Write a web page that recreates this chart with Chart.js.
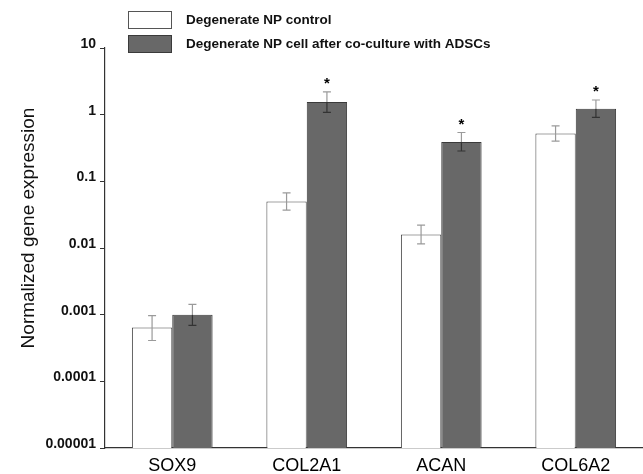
<!DOCTYPE html>
<html>
<head>
<meta charset="utf-8">
<script src="https://cdn.jsdelivr.net/npm/chart.js@4.4.1/dist/chart.umd.min.js"></script>
<style>
  html, body { margin: 0; padding: 0; background: #fff; }
  #wrap { width: 643px; height: 474px; }
</style>
</head>
<body>
<div id="wrap"><canvas id="myChart" width="643" height="474"></canvas></div>
<script>
"use strict";

// data
const genes = ["SOX9", "COL2A1", "ACAN", "COL6A2"];
const seriesNames = ["Degenerate NP control", "Degenerate NP cell after co-culture with ADSCs"];

const controlMean = [0.00064, 0.05, 0.016, 0.52];
const controlLow = [0.00041, 0.037, 0.0115, 0.40];
const controlHigh = [0.00097, 0.067, 0.022, 0.68];

const cocultMean = [0.001, 1.55, 0.39, 1.23];
const cocultLow = [0.00069, 1.08, 0.285, 0.91];
const cocultHigh = [0.00143, 2.19, 0.54, 1.66];
const cocultStar = [false, true, true, true];

const yTickValues = [0.00001, 0.0001, 0.001, 0.01, 0.1, 1, 10];
const yTickLabels = ["0.00001", "0.0001", "0.001", "0.01", "0.1", "1", "10"];
const yTitle = "Normalized gene expression";

const errLow = [controlLow, cocultLow];
const errHigh = [controlHigh, cocultHigh];
const stars = [[false, false, false, false], cocultStar];

// error bars, stars, legend and y title
const extras = {
  id: "extras",
  afterDatasetsDraw(chart) {
    const ctx = chart.ctx;
    const y = chart.scales.y;
    ctx.save();
    chart.data.datasets.forEach((ds, d) => {
      const meta = chart.getDatasetMeta(d);
      meta.data.forEach((bar, i) => {
        const x = bar.x;
        const yHi = y.getPixelForValue(errHigh[d][i]);
        const yLo = y.getPixelForValue(errLow[d][i]);
        const top = bar.y;
        ctx.lineWidth = 1.2;
        ctx.strokeStyle = "#9a9a9a";
        ctx.beginPath();
        ctx.moveTo(x, yHi); ctx.lineTo(x, d === 1 ? top : yLo);
        ctx.moveTo(x - 4, yHi); ctx.lineTo(x + 4, yHi);
        if (d === 0) { ctx.moveTo(x - 4, yLo); ctx.lineTo(x + 4, yLo); }
        ctx.stroke();
        if (d === 1) {
          ctx.strokeStyle = "#333";
          ctx.beginPath();
          ctx.moveTo(x, top); ctx.lineTo(x, yLo);
          ctx.moveTo(x - 4, yLo); ctx.lineTo(x + 4, yLo);
          ctx.stroke();
        }
        if (stars[d][i]) {
          ctx.fillStyle = "#000";
          ctx.font = "bold 15px 'Liberation Sans', Arial, sans-serif";
          ctx.textAlign = "center";
          ctx.textBaseline = "middle";
          ctx.fillText("*", x, yHi - 8);
        }
      });
    });

    // legend
    const fills = ["#ffffff", "#686868"];
    const borders = ["#555", "#3a3a3a"];
    const rows = [11, 35];
    ctx.font = "bold 13.5px 'Liberation Sans', Arial, sans-serif";
    ctx.textAlign = "left";
    ctx.textBaseline = "middle";
    seriesNames.forEach((name, k) => {
      ctx.fillStyle = fills[k];
      ctx.fillRect(128.5, rows[k] + 0.5, 43, 17);
      ctx.strokeStyle = borders[k];
      ctx.lineWidth = 1;
      ctx.strokeRect(128.5, rows[k] + 0.5, 43, 17);
      ctx.fillStyle = "#111";
      ctx.fillText(name, 186, rows[k] + 9);
    });

    // y title
    ctx.translate(29, 228);
    ctx.rotate(-Math.PI / 2);
    ctx.font = "19px 'Liberation Sans', Arial, sans-serif";
    ctx.textAlign = "center";
    ctx.fillStyle = "#111";
    ctx.fillText(yTitle, 0, 0);
    ctx.restore();
  }
};

const ctx = document.getElementById("myChart").getContext("2d");
const myChart = new Chart(ctx, {
  type: "bar",
  data: {
    labels: genes,
    datasets: [
      {
        label: seriesNames[0],
        data: controlMean,
        backgroundColor: "#ffffff",
        borderColor: "#444",
        borderWidth: 1,
        categoryPercentage: 0.6,
        barPercentage: 1.0,
      },
      {
        label: seriesNames[1],
        data: cocultMean,
        backgroundColor: "#686868",
        borderColor: "#3a3a3a",
        borderWidth: 1,
        categoryPercentage: 0.6,
        barPercentage: 1.0,
      },
    ],
  },
  options: {
    responsive: false,
    animation: false,
    layout: { padding: { top: 48, left: 0, right: 0, bottom: 0 } },
    plugins: { legend: { display: false }, tooltip: { enabled: false } },
    scales: {
      x: {
        grid: { display: false, drawTicks: false },
        border: { display: true, color: "#333", width: 1.2 },
        ticks: {
          color: "#000",
          padding: 7,
          font: { family: "'Liberation Sans', Arial, sans-serif", size: 18 },
        },
        afterFit(scale) { scale.height = 26; },
      },
      y: {
        type: "logarithmic",
        min: 0.00001,
        max: 10,
        grid: { display: true, drawOnChartArea: false, tickLength: 5, color: "#333" },
        border: { display: true, color: "#333", width: 1.2 },
        afterBuildTicks(scale) {
          scale.ticks = yTickValues.map((v) => ({ value: v }));
        },
        ticks: {
          color: "#111",
          padding: 4,
          labelOffset: -4,
          font: { family: "'Liberation Sans', Arial, sans-serif", size: 14, weight: "bold" },
          callback: (v) => {
            const k = yTickValues.findIndex((t) => Math.abs(Math.log10(t) - Math.log10(v)) < 1e-6);
            return k >= 0 ? yTickLabels[k] : "";
          },
        },
        afterFit(scale) { scale.width = 105; },
      },
    },
  },
  plugins: [extras],
});
</script>
</body>
</html>
